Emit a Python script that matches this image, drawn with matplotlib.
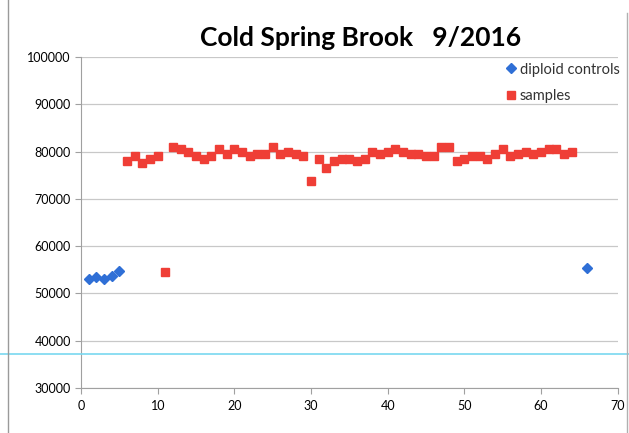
import matplotlib
matplotlib.use("Agg")
import matplotlib.pyplot as plt
from matplotlib.lines import Line2D

plt.rcParams['font.family'] = ['Lato', 'DejaVu Sans']

# diploid controls
ctrl_x = [1, 2, 3, 4, 5, 66]
ctrl_y = [53000, 53500, 53100, 53700, 54700, 55300]

# samples
samp_x = list(range(6, 65))
samp_y = [78000, 79000, 77500, 78500, 79000, 54500, 81000, 80500, 80000, 79000,
          78500, 79000, 80500, 79500, 80500, 80000, 79000, 79500, 79500, 81000,
          79500, 80000, 79500, 79000, 73800, 78500, 76500, 78000, 78500, 78500,
          78000, 78500, 80000, 79500, 80000, 80500, 80000, 79500, 79500, 79000,
          79000, 81000, 81000, 78000, 78500, 79000, 79000, 78500, 79500, 80500,
          79000, 79500, 80000, 79500, 80000, 80500, 80500, 79500, 80000]

x_ticks = [0, 10, 20, 30, 40, 50, 60, 70]
y_ticks = [30000, 40000, 50000, 60000, 70000, 80000, 90000, 100000]

fig = plt.figure(figsize=(6.29, 4.33), dpi=100)
ax = fig.add_axes([0.129, 0.104, 0.853, 0.764])

ax.plot(ctrl_x, ctrl_y, 'D', color='#2f6fd6', markersize=5.2, label='diploid controls', zorder=3)
ax.plot(samp_x, samp_y, 's', color='#ef3e36', markersize=6.3, label='samples', zorder=3)

ax.set_xlim(0, 70)
ax.set_ylim(30000, 100000)
ax.set_xticks(x_ticks)
ax.set_yticks(y_ticks)
ax.grid(axis='y', color='#c8c8c8', linewidth=0.9)
ax.set_axisbelow(True)
for s in ['top', 'right']:
    ax.spines[s].set_visible(False)
for s in ['left', 'bottom']:
    ax.spines[s].set_color('#a0a0a0')
ax.tick_params(axis='both', colors='#a0a0a0', labelcolor='black', labelsize=9, length=4)
ax.tick_params(axis='x', pad=5)

leg = ax.legend(loc='upper right', frameon=False, fontsize=10.5, handlelength=0.6,
                handletextpad=0.3, labelspacing=0.85, borderaxespad=0.2,
                bbox_to_anchor=(1.02, 1.01))
for t in leg.get_texts():
    t.set_color('#333333')

fig.text(0.574, 0.912, 'Cold Spring Brook   9/2016', ha='center', va='center',
         fontsize=19, fontweight='bold')

# scan artefacts: cyan line across the page and page edges
fig.add_artist(Line2D([0, 1], [1 - 354 / 433] * 2, color='#79d8f0', linewidth=1.2))
fig.add_artist(Line2D([8 / 629] * 2, [0, 1], color='#9a9a9a', linewidth=1))
fig.add_artist(Line2D([627 / 629] * 2, [0, 0.97], color='#b0b0b0', linewidth=1))

fig.savefig('out.png', dpi=100)
